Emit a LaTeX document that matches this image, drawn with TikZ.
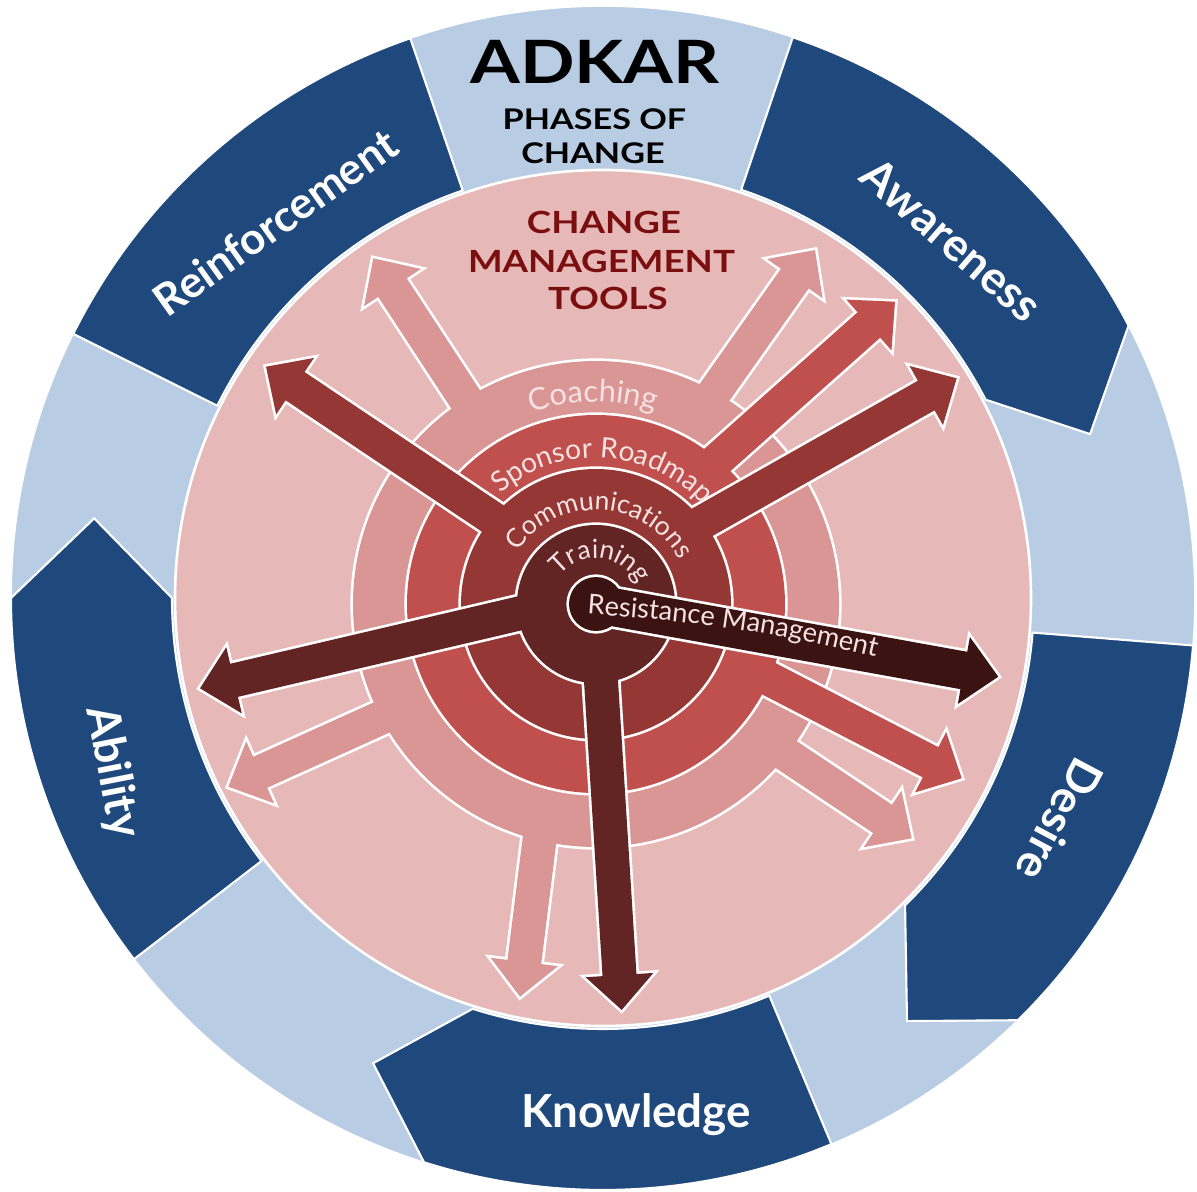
\documentclass[tikz,border=0pt]{standalone}
\usepackage{fontspec}
\setmainfont{Lato}
\newfontfamily\capsfont[FakeStretch=1.2]{Lato}
\usetikzlibrary{decorations.text}

\definecolor{paleblue}{HTML}{B8CCE4}
\definecolor{phaseblue}{HTML}{1F497D}
\definecolor{toolpink}{HTML}{E6B8B7}
\definecolor{coaching}{HTML}{D99694}
\definecolor{sponsor}{HTML}{C0504D}
\definecolor{comms}{HTML}{953735}
\definecolor{training}{HTML}{632523}
\definecolor{resist}{HTML}{3C1313}
\definecolor{titlered}{HTML}{7B0F0F}
\definecolor{ringtext}{HTML}{F6E2E2}

\newcommand{\blockarrow}[4][17]{%
  \path[piece, shift={#2}, rotate=#3] (0,0) -- (-35,34) -- (-35,#1) -- (-#4,#1)
    -- (-#4,-#1) -- (-35,-#1) -- (-35,-34) -- cycle;}
\newcommand{\toollayer}[2]{%
  \tikzset{piece/.style={draw=white, line width=3pt}}#2%
  \tikzset{piece/.style={fill=#1}}#2}
\newcommand{\ringlabel}[4]{%
  \path[shift={(rc)}, decorate, decoration={text along path, text align=center,
    text={|\color{ringtext}\fontsize{#3}{#3}\selectfont|#4}}] (#2+90:#1) arc (#2+90:#2-90:#1);}

\begin{document}
\begin{tikzpicture}[x=0.02cm, y=0.02cm,
    phase/.style={fill=phaseblue, draw=white, line width=1.2pt},
    phaselabel/.style={text=white, inner sep=0pt, font=\bfseries\fontsize{26}{26}\selectfont},
    blacktitle/.style={inner sep=0pt, font=\capsfont\bfseries\fontsize{16.2}{16.2}\selectfont},
    redtitle/.style={inner sep=0pt, text=titlered, font=\capsfont\bfseries\fontsize{17.4}{17.4}\selectfont}]
  \useasboundingbox (-603,-593) rectangle (594,598);
  \fill[white] (-603,-593) rectangle (594,598);
  \filldraw[fill=paleblue, draw=white, line width=1pt] (0,0) circle (592);

  \filldraw[phase] (109:592) arc (109:153.5:592) -- (153.5:431) arc (153.5:109:431) -- cycle;
  \filldraw[phase] (71.3:592) arc (71.3:27.4:592) -- (18.6:514) -- (27.4:431) arc (27.4:71.3:431) -- cycle;
  \filldraw[phase] (-4.6:592) arc (-4.6:-45.5:592) -- (-54.3:521) -- (-45.5:431) arc (-45.5:-4.6:431) -- cycle;
  \filldraw[phase] (-67.3:592) arc (-67.3:-107.6:592) -- (-116.3:519) -- (-107.6:431) arc (-107.6:-67.3:431) -- cycle;
  \filldraw[phase] (-142.4:592) arc (-142.4:-180:592) -- (-188.9:515) -- (-180:431) arc (-180:-142.4:431) -- cycle;

  \filldraw[fill=toolpink, draw=white, line width=1.5pt] (0,0) circle (428);
  \coordinate (rc) at (-7,-6);

  \toollayer{coaching}{%
    \path[piece] (rc) circle (243);
    \blockarrow{(-229.7,339.7)}{123.2}{380}
    \blockarrow{(212,348)}{54.8}{380}
    \blockarrow{(-374.7,-188.7)}{204.3}{380}
    \blockarrow{(-83,-398.7)}{262.9}{380}
    \blockarrow{(308.7,-240.3)}{-33.7}{380}}
  \toollayer{sponsor}{%
    \path[piece] (rc) circle (189);
    \blockarrow{(292,296.3)}{41.7}{380}
    \blockarrow{(358.7,-180.3)}{-27.3}{380}}
  \toollayer{comms}{%
    \path[piece] (rc) circle (135);
    \blockarrow{(-337,231.3)}{146.2}{380}
    \blockarrow{(353.7,219.7)}{29.5}{380}}
  \toollayer{training}{%
    \path[piece] (rc) circle (79);
    \blockarrow{(-403,-90.3)}{193.2}{380}
    \blockarrow{(18.7,-412)}{-86.4}{380}}
  \toollayer{resist}{%
    \path[piece] (rc) circle (27);
    \blockarrow[19]{(395.3,-78.7)}{-10.24}{409}}

  \ringlabel{202}{90.8}{17.5}{Coaching}
  \ringlabel{146}{87}{16}{Sponsor Roadmap}
  \ringlabel{94}{87}{15}{Communications}
  \ringlabel{46}{84}{15}{Training}
  \path[decorate, decoration={text along path,
    text={|\color{ringtext}\fontsize{15.5}{15.5}\selectfont|Resistance Management}}]
    (-16,-16) to[bend left=5] (310,-68);

  \node[phaselabel, rotate=35.5, font=\bfseries\fontsize{25}{25}\selectfont] (reinforcement) at (-328,376) {Reinforcement};
  \node[phaselabel, rotate=-41] (awareness) at (349,358) {Awareness};
  \node[phaselabel, rotate=-118] (desire) at (457,-222) {Desire};
  \node[phaselabel] (knowledge) at (33,-517) {Knowledge};
  \node[phaselabel, rotate=-79] (ability) at (-491,-174) {Ability};

  \node[blacktitle, font=\capsfont\bfseries\fontsize{34}{34}\selectfont] (adkar) at (-8,536.5) {ADKAR};
  \node[blacktitle] (phases) at (-8.5,479) {PHASES OF};
  \node[blacktitle] (change) at (-10,445) {CHANGE};
  \node[redtitle] (cmchange) at (1,375.5) {CHANGE};
  \node[redtitle] (cmmanagement) at (-1.5,337) {MANAGEMENT};
  \node[redtitle] (cmtools) at (5,299.7) {TOOLS};
\end{tikzpicture}
\end{document}
